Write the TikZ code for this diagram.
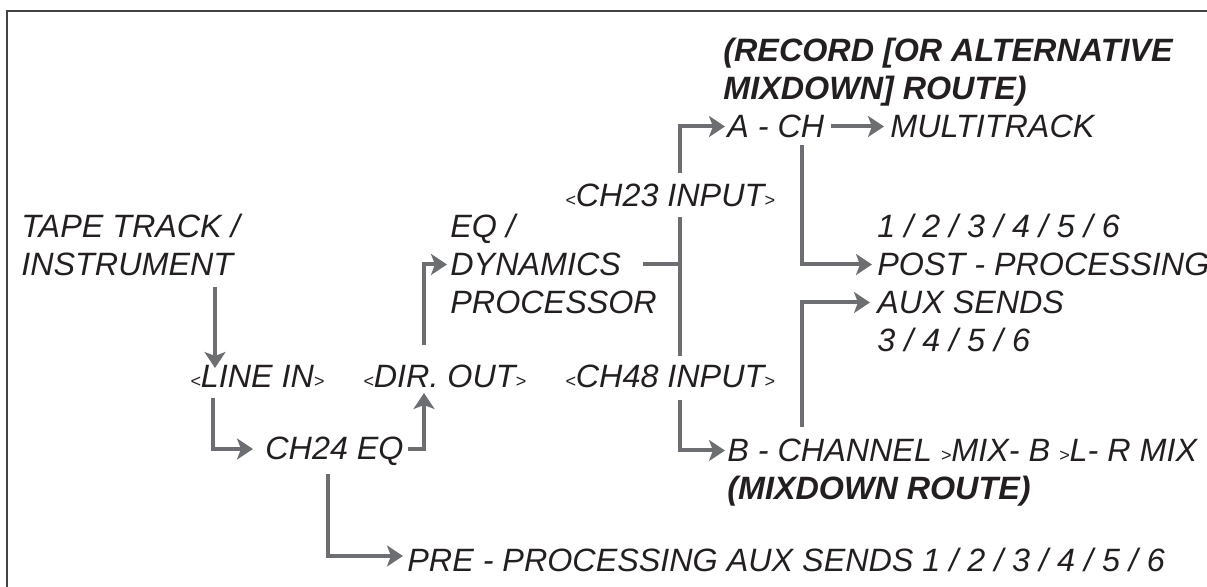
\documentclass[tikz,border=0pt]{standalone}
\usepackage{fontspec}
\setmainfont{Liberation Sans}
\usetikzlibrary{arrows.meta, calc}

\definecolor{wire}{HTML}{6D6E71}
\definecolor{ink}{HTML}{231F20}
\newcommand{\angL}{{\fontsize{9}{9}\selectfont<}}
\newcommand{\angR}{{\fontsize{9}{9}\selectfont>}}

\begin{document}
\begin{tikzpicture}[
        x=0.5pt, y=-0.5pt,
        lbl/.style={anchor=base west, inner sep=0pt, align=left, text=ink, font=\fontsize{16.15}{19}\selectfont\itshape},
        hdr/.style={lbl, font=\fontsize{16.15}{19}\selectfont\bfseries\itshape},
        wire/.style={-{Stealth[length=8pt, width=10.5pt, inset=2pt]}, line width=2pt, draw=wire},
        bar/.style={line width=2pt, draw=wire}
    ]
        \useasboundingbox (0,0) rectangle (1207,587);
        \draw[line width=1pt, draw=ink!85] (7,587) -- (7,11) -- (1207,11);
        % left column (multi-line nodes sit on their last line)
        \node[lbl] (tape) at (21,276) {TAPE TRACK /\\INSTRUMENT};
        \node[lbl] (linein) at (190,388) {\angL LINE IN\angR};
        \node[lbl] (dirout) at (363,388) {\angL DIR. OUT\angR};
        \node[lbl] (ch24) at (265,460) {CH24 EQ};
        \node[lbl] (pre) at (407,572) {PRE - PROCESSING AUX SENDS 1 / 2 / 3 / 4 / 5 / 6};
        \node[lbl] (eqdyn) at (450,314) {EQ /\\DYNAMICS\\PROCESSOR};
        % channel inputs
        \node[lbl] (ch23) at (565,207) {\angL CH23 INPUT\angR};
        \node[lbl] (ch48) at (565,388) {\angL CH48 INPUT\angR};
        % right column
        \node[hdr] (recroute) at (723,100) {(RECORD [OR ALTERNATIVE\\MIXDOWN] ROUTE)};
        \node[lbl] (ach) at (727,138) {A - CH};
        \node[lbl] (multi) at (890,138) {MULTITRACK};
        \node[lbl] (post) at (877,352) {1 / 2 / 3 / 4 / 5 / 6\\POST - PROCESSING\\AUX SENDS\\3 / 4 / 5 / 6};
        \node[lbl] (bch) at (727,462) {B - CHANNEL \angR MIX- B \angR L- R MIX};
        \node[hdr] (mixroute) at (727,500) {(MIXDOWN ROUTE)};
        % connectors
        \draw[wire] ($(tape.base west)+(194,11)$) -- ($(linein.base west)+(25,-20)$);
        \draw[wire] ($(linein.base west)+(23,10)$) |- ($(ch24.base west)+(-12,-11)$);
        \draw[wire] ($(ch24.base west)+(143,-11)$) -| ($(dirout.base west)+(61,5)$);
        \draw[wire] ($(dirout.base west)+(61,-43)$) |- ($(eqdyn.base west)+(-3,-49.5)$);
        \draw[wire] ($(ch24.base west)+(63,14)$) |- ($(pre.base west)+(-4,-16)$);
        \coordinate (busTop) at ($(ch23.base west)+(115,10)$);
        \coordinate (dynout) at ($(eqdyn.base west)+(193,-49.5)$);
        \draw[wire] ($(ch23.base west)+(115,-34)$) |- ($(ach.base west)+(-2,-11.5)$);
        \draw[bar] (busTop) -- ($(ch48.base west)+(115,-32)$);
        \draw[bar] (dynout) -- (dynout -| busTop);
        \draw[wire] ($(ch48.base west)+(115,12)$) |- ($(bch.base west)+(-2,-11.5)$);
        \draw[wire] ($(ach.base west)+(104,-11.5)$) -- ($(multi.base west)+(-6,-11.5)$);
        \draw[wire] ($(ach.base west)+(75,7)$) |- ($(post.base west)+(-5,-87.5)$);
        \draw[wire] ($(bch.base west)+(75,-35)$) |- ($(post.base west)+(-7,-49.5)$);
    \end{tikzpicture}
\end{document}
